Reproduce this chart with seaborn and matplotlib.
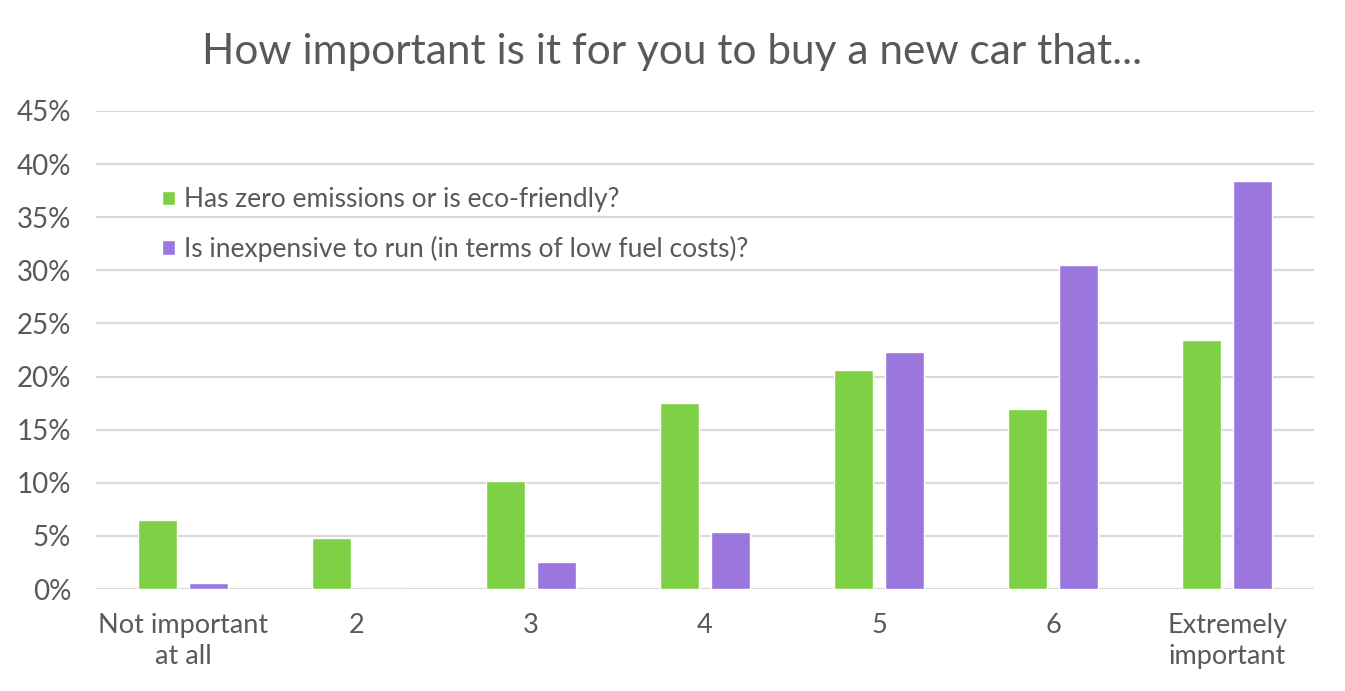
import matplotlib
matplotlib.use("Agg")
import matplotlib.pyplot as plt
import seaborn as sns
import pandas as pd
from matplotlib.ticker import PercentFormatter

categories = ["Not important\nat all", "2", "3", "4", "5", "6", "Extremely\nimportant"]
series_names = ["Has zero emissions or is eco-friendly?",
                "Is inexpensive to run (in terms of low fuel costs)?"]
eco_values = [6.5, 4.8, 10.2, 17.5, 20.6, 16.9, 23.4]
cost_values = [0.6, 0.0, 2.5, 5.4, 22.3, 30.5, 38.4]
colors = ["#7ED045", "#9B77DD"]

df = pd.DataFrame({
    "category": categories * 2,
    "series": [series_names[0]] * len(categories) + [series_names[1]] * len(categories),
    "value": eco_values + cost_values,
})

sns.set_theme(style="white")
plt.rcParams["font.family"] = ["Lato", "DejaVu Sans"]
text_color = "#595959"

fig = plt.figure(figsize=(13.45, 6.91), dpi=100)
ax = fig.add_axes([0.0714, 0.1476, 0.9056, 0.6918])

sns.barplot(data=df, x="category", y="value", hue="series", order=categories,
            hue_order=series_names, palette=colors, saturation=1,
            width=0.59, gap=0.24, ax=ax, zorder=3)

ax.set_ylim(0, 45)
ax.set_yticks(range(0, 46, 5))
ax.yaxis.set_major_formatter(PercentFormatter(decimals=0))
ax.grid(axis="y", color="#D9D9D9", linewidth=1.6, zorder=0)
ax.set_axisbelow(True)
for s in ax.spines.values():
    s.set_visible(False)
ax.set_xlabel("")
ax.set_ylabel("")
ax.tick_params(axis="y", length=0, pad=18, labelsize=20, labelcolor=text_color)
ax.tick_params(axis="x", length=0, pad=17, labelsize=19.5, labelcolor=text_color)
for lbl in ax.get_xticklabels():
    lbl.set_linespacing(1.3)

ax.set_title("How important is it for you to buy a new car that...",
             fontsize=30.5, color=text_color, pad=34, x=0.473)

leg = ax.legend(loc="upper left", bbox_to_anchor=(0.035, 0.89), frameon=False,
                fontsize=19, handlelength=0.47, handleheight=0.47,
                handletextpad=0.35, labelspacing=0.88)
for t in leg.get_texts():
    t.set_color(text_color)

fig.savefig("out.png", dpi=100)
